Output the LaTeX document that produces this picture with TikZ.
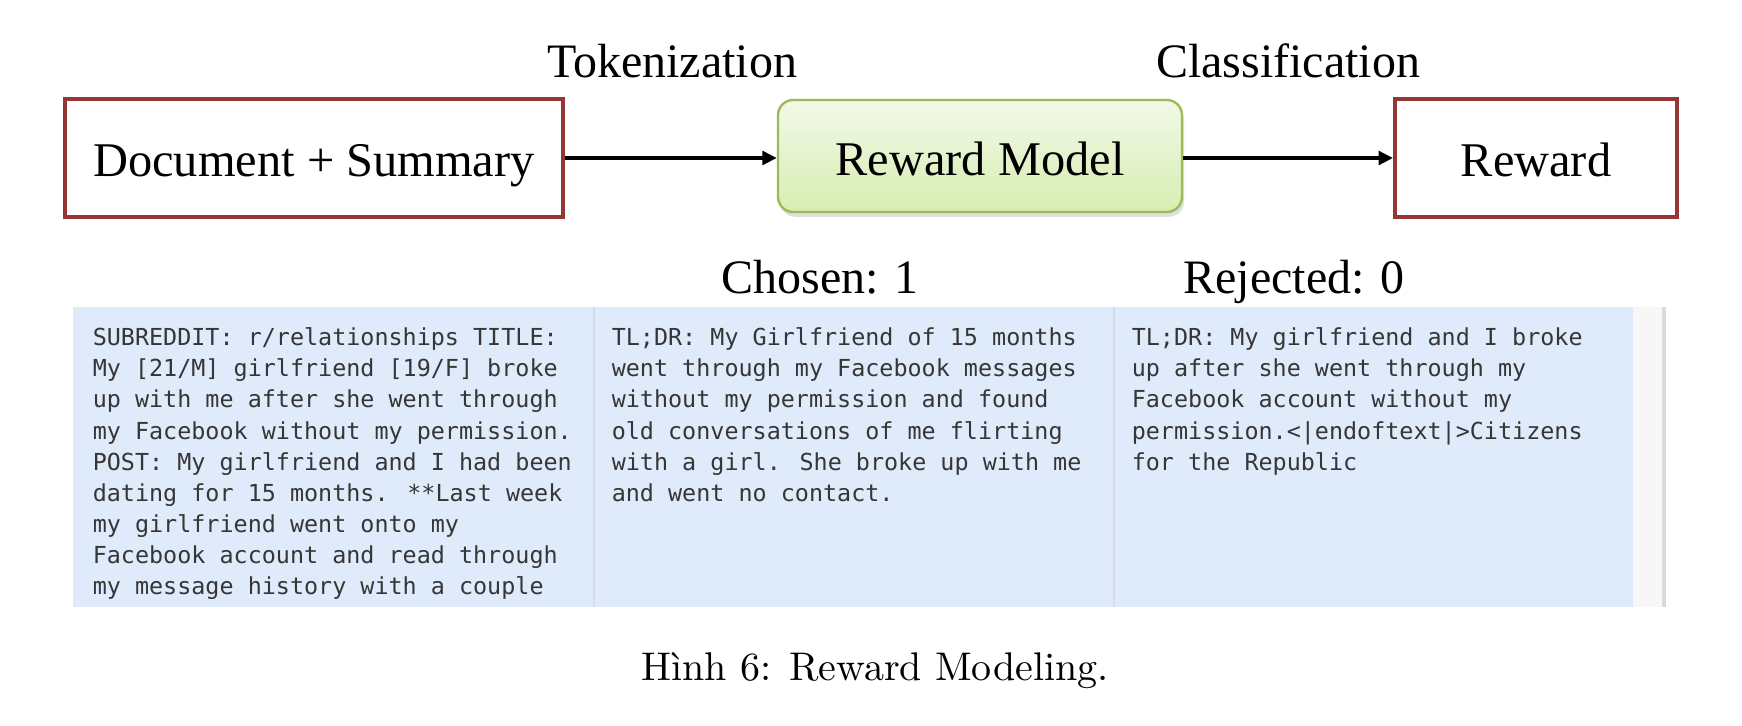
\documentclass[tikz,border=0pt]{standalone}
\usepackage{fontspec}
\usepackage{tikz}
\usetikzlibrary{arrows.meta,positioning,shadows}
\newfontfamily\labelfont{Liberation Serif}
\newfontfamily\codefont{DejaVu Sans Mono}
\definecolor{boxred}{HTML}{943634}
\definecolor{modelgreen}{HTML}{9BBB59}
\definecolor{modeltop}{HTML}{F2F9E8}
\definecolor{modelbottom}{HTML}{D7EDB2}
\definecolor{cellblue}{HTML}{DFEAFB}
\definecolor{cellrule}{HTML}{D2DCEA}
\definecolor{codegray}{HTML}{363636}
\definecolor{stripgray}{HTML}{F7F7F7}
\definecolor{edgegray}{HTML}{DADADA}

\begin{document}
\begin{tikzpicture}[x=0.25pt, y=-0.25pt,
  io/.style={draw=boxred, line width=1pt, fill=white, minimum width=124.5pt, minimum height=29.5pt, inner sep=0pt, text height=11pt, text depth=1.5pt, font=\labelfont\fontsize{12.1}{14}\selectfont},
  model/.style={draw=modelgreen, line width=0.6pt, rounded corners=3.8pt, top color=modeltop, bottom color=modelbottom, minimum width=101pt, minimum height=28pt, inner sep=0pt, text height=11pt, text depth=1pt, drop shadow={opacity=0.25, shadow xshift=0.5pt, shadow yshift=-1.2pt}, font=\labelfont\fontsize{12.1}{14}\selectfont},
  stage/.style={anchor=base, inner sep=0pt, font=\labelfont\fontsize{12}{14}\selectfont},
  code/.style={anchor=north west, align=left, inner sep=0pt, text=codegray, font=\codefont\fontsize{5.85}{7.78}\selectfont},
  flow/.style={-{Triangle[length=3.6pt, width=3.4pt]}, line width=1pt}
]
  \useasboundingbox (0,0) rectangle (1742,726);

  % pipeline
  \node[io] (doc) at (314,158) {Document + Summary};
  \node[model] (rm) at (980,156) {Reward Model};
  \node[io, minimum width=70.5pt] (reward) at (1536,158) {Reward};

  \node[stage] (tok) at (672,78) {Tokenization};
  \node[stage] (cls) at (1288,78) {Classification};

  \draw[flow] (doc.east) -- (doc.east -| rm.west);
  \draw[flow] (rm.east |- reward.west) -- (reward.west);

  % sample pair
  \node[stage] (chosen) at (820,294) {Chosen: 1};
  \node[stage] (rejected) at (1294,294) {Rejected: 0};

  \fill[cellblue] (73,307) rectangle (1633,607);
  \fill[stripgray] (1633,307) rectangle (1663,607);
  \draw[edgegray, line width=1pt] (1664,307) -- (1664,607);
  \draw[cellrule, line width=0.4pt] (594,307) -- (594,607) (1114,307) -- (1114,607);

  \node[code] (post) at (92,327) {SUBREDDIT: r/relationships TITLE:\\My [21/M] girlfriend [19/F] broke\\up with me after she went through\\my Facebook without my permission.\\POST: My girlfriend and I had been\\dating for 15 months. **Last week\\my girlfriend went onto my\\Facebook account and read through\\my message history with a couple};
  \node[code] (good) at (611,327) {TL;DR: My Girlfriend of 15 months\\went through my Facebook messages\\without my permission and found\\old conversations of me flirting\\with a girl. She broke up with me\\and went no contact.};
  \node[code] (bad) at (1131,327) {TL;DR: My girlfriend and I broke\\up after she went through my\\Facebook account without my\\permission.<|endoftext|>Citizens\\for the Republic};

  \node[anchor=base, inner sep=0pt, font=\fontsize{10}{12}\selectfont] (caption) at (875,680) {Hình 6: Reward Modeling.};
\end{tikzpicture}
\end{document}
